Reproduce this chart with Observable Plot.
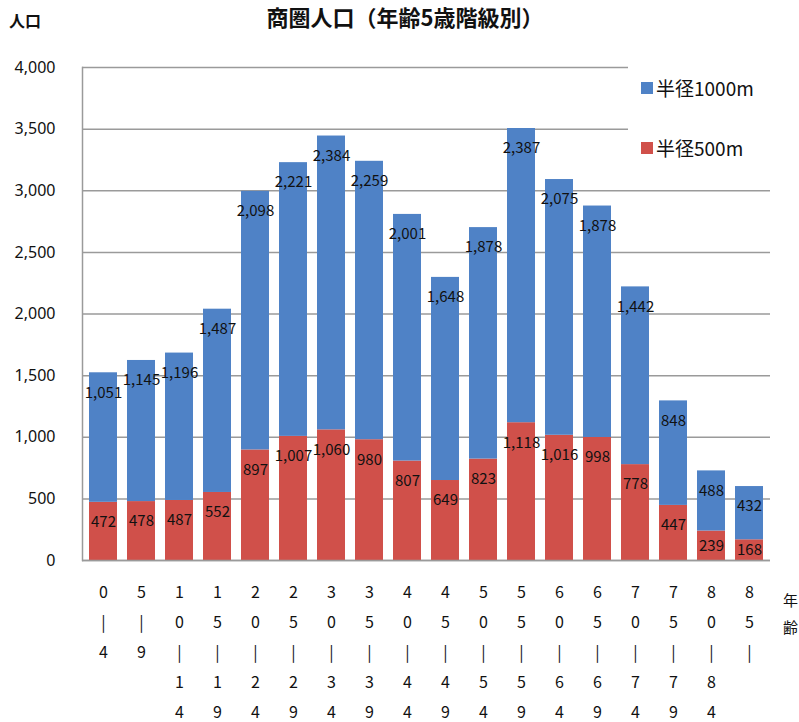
<!DOCTYPE html>
<html><head><meta charset="utf-8">
<script src="https://cdn.jsdelivr.net/npm/d3@7"></script>
<script src="https://cdn.jsdelivr.net/npm/@observablehq/plot@0.6"></script>
<style>
body{margin:0;background:#fff;font-family:"Noto Sans CJK JP","Noto Sans",sans-serif;}
#wrap{position:relative;width:799px;height:722px;overflow:hidden;background:#fff;}
.abs{position:absolute;white-space:nowrap;color:#111;}
#title{left:260px;width:290px;text-align:center;top:4px;font-size:22px;font-weight:bold;line-height:24px;}
#ylab{left:9px;top:8px;font-size:16px;font-weight:bold;}
#xlab{left:783px;top:586px;font-size:15px;line-height:27px;width:16px;}
#legend{left:628px;top:58px;width:171px;height:122px;background:#fff;}
.lg{position:absolute;left:13px;font-size:19px;display:flex;align-items:center;}
.sw{display:inline-block;width:12px;height:12px;margin-right:3px;}
</style></head><body><div id="wrap"></div>
<script>
const ages = ["0-4","5-9","10-14","15-19","20-24","25-29","30-34","35-39","40-44","45-49","50-54","55-59","60-64","65-69","70-74","75-79","80-84","85-"];
const r500 = [472,478,487,552,897,1007,1060,980,807,649,823,1118,1016,998,778,447,239,168];
const r1000 = [1051,1145,1196,1487,2098,2221,2384,2259,2001,1648,1878,2387,2075,1878,1442,848,488,432];
const seriesNames = ["半径500m","半径1000m"];
const seriesColors = ["#d0504a","#4f82c6"];
const yTicks = [0,500,1000,1500,2000,2500,3000,3500,4000];
const titleText = "商圏人口（年齢5歳階級別）";

const data = [
  ...ages.map((a,i)=>({age:a, series:seriesNames[0], value:r500[i], base:0})),
  ...ages.map((a,i)=>({age:a, series:seriesNames[1], value:r1000[i], base:r500[i]}))
];
const fmt = d3.format(",d");

// data-label anchor: near the inside top of each segment, or its middle if the segment is short
const yMax = 4000, plotH = 722 - 67 - 162;
const inset = 20 * yMax / plotH;
const labelY = d => Math.max(d.base + d.value - inset, d.base + d.value / 2);

const chart = Plot.plot({
  width:799, height:722,
  marginLeft:82, marginRight:29, marginTop:67, marginBottom:162,
  style:{fontFamily:'"Noto Sans CJK JP","Noto Sans",sans-serif', fontSize:"15px", color:"#111", background:"#fff"},
  x:{domain:ages, paddingInner:0.27, paddingOuter:0.12, label:null},
  y:{domain:[0,yMax], label:null},
  color:{domain:seriesNames, range:seriesColors},
  marks:[
    Plot.gridY(yTicks, {stroke:"#9a9a9a", strokeOpacity:1, strokeWidth:1.5}),
    Plot.barY(data, {x:"age", y:"value", fill:"series"}),
    Plot.ruleY([0], {stroke:"#9a9a9a", strokeWidth:1.5}),
    Plot.frame({anchor:"left", stroke:"#9a9a9a", strokeWidth:1.5}),
    Plot.axisY(yTicks, {tickSize:0, tickPadding:27, tickFormat:d3.format(",d"), fontSize:16, fontFamily:'"Noto Sans",sans-serif', label:null}),
    Plot.axisX({tickSize:0, tickPadding:16, lineHeight:1.875, fontSize:16, label:null,
      tickFormat: a => a.replace("-", "|").split("").join("\n")}),
    Plot.text(data, {x:"age", y:labelY, text: d => fmt(d.value), fontSize:15, fill:"#111"})
  ]
});

const wrap = document.getElementById("wrap");
wrap.appendChild(chart);
const add = (id, html) => { const d = document.createElement("div"); d.className = "abs"; d.id = id; d.innerHTML = html; wrap.appendChild(d); return d; };
add("title", titleText);
add("ylab", "人口");
add("xlab", "年<br>齢");
const lg = add("legend", "");
[[1, 16], [0, 76]].forEach(([i, top]) => {
  const row = document.createElement("div");
  row.className = "lg"; row.style.top = top + "px";
  row.innerHTML = `<span class="sw" style="background:${seriesColors[i]}"></span>${seriesNames[i]}`;
  lg.appendChild(row);
});
</script></body></html>
